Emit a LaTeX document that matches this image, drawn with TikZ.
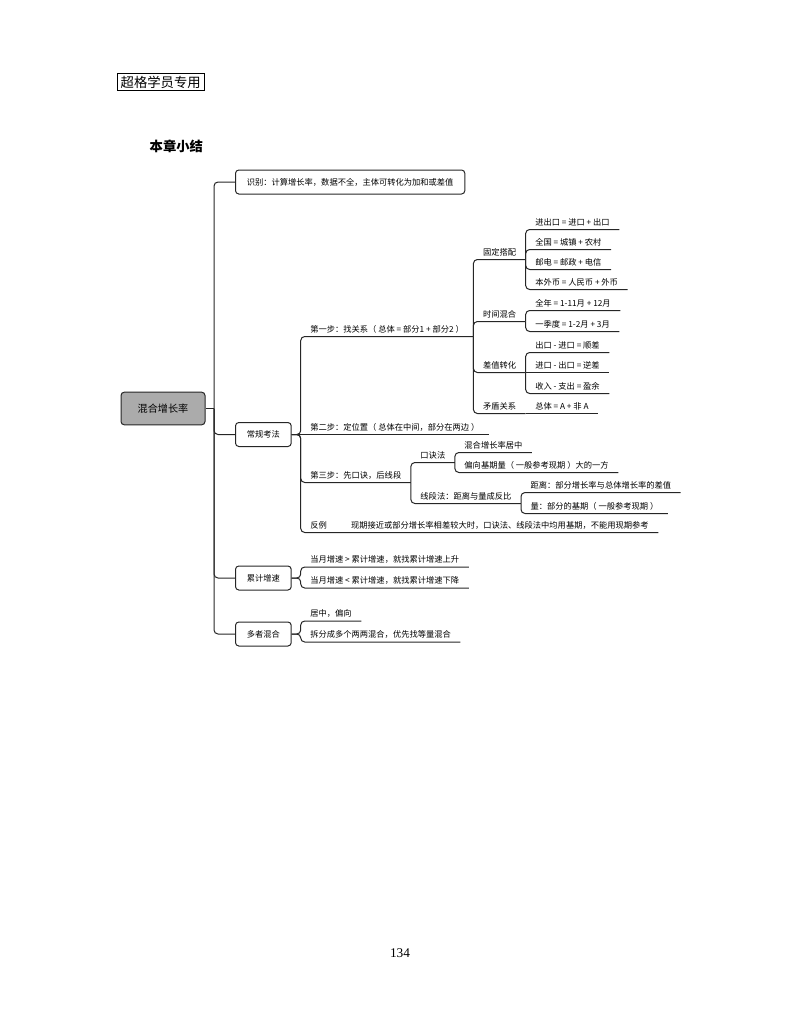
\documentclass[tikz,border=0pt]{standalone}
\usepackage{fontspec}
\setmainfont{Liberation Serif}
\newfontfamily\cjk{Noto Sans CJK SC}
\usetikzlibrary{calc}

\tikzset{
  conn/.style={line width=0.75pt, draw=black!85, rounded corners=3pt},
  box/.style={draw=black!85, line width=0.75pt, rounded corners=2.5pt, font=\cjk\fontsize{6.2}{7}\selectfont, inner xsep=8.5pt, minimum height=18pt, anchor=west},
  root/.style={box, fill=black!33, font=\cjk\fontsize{7.6}{9}\selectfont, inner xsep=12.5pt, minimum height=24.5pt, anchor=center},
  leaf/.style={font=\cjk\fontsize{6.2}{7}\selectfont, inner xsep=7pt, inner ysep=2.5pt, anchor=south west},
}

\begin{document}
\begin{tikzpicture}[x=0.75pt, y=-0.75pt]
  \useasboundingbox (0,0) rectangle (800,1035);

  % 页眉
  \node[draw, line width=0.6pt, inner xsep=2.5pt, inner ysep=1.5pt, font=\cjk\fontsize{10}{12}\selectfont, anchor=west] (tag) at (117,82) {超格学员专用};
  \node[font=\cjk\bfseries\fontsize{10}{12}\selectfont, anchor=west] (title) at (145,146) {本章小结};

  % 中心主题
  \node[root] (root) at (163,408.5) {混合增长率};
  \coordinate (trunk) at (214,408.5);

  % 一级分支
  \node[box] (shibie) at (235,182) {识别：计算增长率，数据不全，主体可转化为加和或差值};
  \node[box] (changgui) at (235,434.5) {常规考法};
  \node[box] (leiji) at (235,578) {累计增速};
  \node[box] (duozhe) at (235,634) {多者混合};

  \draw[conn] (root.east) -- (trunk);
  \foreach \b in {shibie,changgui,leiji,duozhe}
    \draw[conn] (trunk) |- (\b.west);

  % 常规考法
  \coordinate (cgj) at ($(changgui.east)+(9,0)$);
  \node[leaf] (yibu) at ($(cgj)+(0,-98)$) {第一步：找关系（ 总体 = 部分1 + 部分2 ）};
  \node[leaf] (erbu) at (cgj) {第二步：定位置（ 总体在中间，部分在两边 ）};
  \node[leaf] (sanbu) at ($(cgj)+(0,48)$) {第三步：先口诀，后线段};
  \node[leaf] (fanli) at ($(cgj)+(0,98)$) {反例};
  \node[leaf] (fanlitext) at ($(fanli.south east)+(5,0)$) {现期接近或部分增长率相差较大时，口诀法、线段法中均用基期，不能用现期参考};

  \draw[conn] (changgui.east) -- (cgj) |- (yibu.south east);
  \draw[conn] (changgui.east) -- (erbu.south east);
  \draw[conn] (changgui.east) -- (cgj) |- (sanbu.south east);
  \draw[conn] (changgui.east) -- (cgj) |- (fanlitext.south east);

  % 第一步：找关系
  \node[leaf] (guding) at ($(yibu.south east)+(0,-77)$) {固定搭配};
  \node[leaf] (shijian) at ($(yibu.south east)+(0,-15)$) {时间混合};
  \node[leaf] (chazhi) at ($(yibu.south east)+(0,36)$) {差值转化};
  \node[leaf] (maodun) at ($(yibu.south east)+(0,77)$) {矛盾关系};
  \foreach \c in {guding,shijian,chazhi,maodun}
    \draw[conn] (yibu.south east) |- (\c.south east);

  % 固定搭配
  \node[leaf] (jck) at ($(guding.south east)+(0,-30)$) {进出口 = 进口 + 出口};
  \node[leaf] (quanguo) at ($(guding.south east)+(0,-10)$) {全国 = 城镇 + 农村};
  \node[leaf] (youdian) at ($(guding.south east)+(0,10)$) {邮电 = 邮政 + 电信};
  \node[leaf] (benwai) at ($(guding.south east)+(0,30)$) {本外币 = 人民币 + 外币};
  \foreach \c in {jck,quanguo,youdian,benwai}
    \draw[conn] (guding.south east) |- (\c.south east);

  % 时间混合
  \node[leaf] (quannian) at ($(shijian.south east)+(0,-11)$) {全年 = 1-11月 + 12月};
  \node[leaf] (jidu) at ($(shijian.south east)+(0,10)$) {一季度 = 1-2月 + 3月};
  \foreach \c in {quannian,jidu}
    \draw[conn] (shijian.south east) |- (\c.south east);

  % 差值转化
  \node[leaf] (shuncha) at ($(chazhi.south east)+(0,-20)$) {出口 - 进口 = 顺差};
  \node[leaf] (nicha) at (chazhi.south east) {进口 - 出口 = 逆差};
  \node[leaf] (yingyu) at ($(chazhi.south east)+(0,21)$) {收入 - 支出 = 盈余};
  \draw[conn] (chazhi.south east) |- (shuncha.south east);
  \draw[conn] (chazhi.south east) -- (nicha.south east);
  \draw[conn] (chazhi.south east) |- (yingyu.south east);

  % 矛盾关系
  \node[leaf] (zongti) at (maodun.south east) {总体 = A + 非 A};
  \draw[conn] (maodun.south east) -- (zongti.south east);

  % 第三步：先口诀，后线段
  \node[leaf] (koujue) at ($(sanbu.south east)+(0,-20)$) {口诀法};
  \node[leaf] (xianduan) at ($(sanbu.south east)+(0,21)$) {线段法：距离与量成反比};
  \foreach \c in {koujue,xianduan}
    \draw[conn] (sanbu.south east) |- (\c.south east);

  \node[leaf] (juzhong) at ($(koujue.south east)+(0,-10)$) {混合增长率居中};
  \node[leaf] (pianxiang) at ($(koujue.south east)+(0,10)$) {偏向基期量（ 一般参考现期 ）大的一方};
  \foreach \c in {juzhong,pianxiang}
    \draw[conn] (koujue.south east) |- (\c.south east);

  \node[leaf] (juli) at ($(xianduan.south east)+(0,-11)$) {距离：部分增长率与总体增长率的差值};
  \node[leaf] (liang) at ($(xianduan.south east)+(0,10)$) {量：部分的基期（ 一般参考现期 ）};
  \foreach \c in {juli,liang}
    \draw[conn] (xianduan.south east) |- (\c.south east);

  % 累计增速
  \coordinate (ljj) at ($(leiji.east)+(9,0)$);
  \node[leaf] (shangsheng) at ($(ljj)+(0,-11)$) {当月增速 > 累计增速，就找累计增速上升};
  \node[leaf] (xiajiang) at ($(ljj)+(0,10)$) {当月增速 < 累计增速，就找累计增速下降};
  \foreach \c in {shangsheng,xiajiang}
    \draw[conn] (leiji.east) -- (ljj) |- (\c.south east);

  % 多者混合
  \coordinate (dzj) at ($(duozhe.east)+(9,0)$);
  \node[leaf] (juzhong2) at ($(dzj)+(0,-13)$) {居中，偏向};
  \node[leaf] (chaifen) at ($(dzj)+(0,8)$) {拆分成多个两两混合，优先找等量混合};
  \foreach \c in {juzhong2,chaifen}
    \draw[conn] (duozhe.east) -- (dzj) |- (\c.south east);

  % 页码
  \node[font=\fontsize{10}{12}\selectfont] (page) at (400,953) {134};
\end{tikzpicture}
\end{document}
